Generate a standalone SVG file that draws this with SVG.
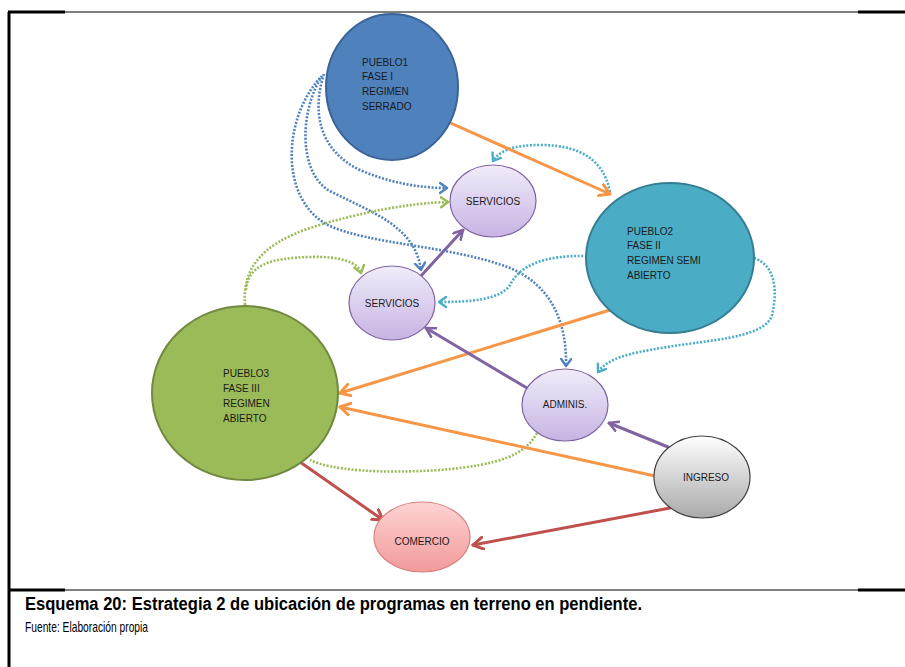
<svg xmlns="http://www.w3.org/2000/svg" width="905" height="667" viewBox="0 0 905 667">
<style>
.lbl{font-family:"Liberation Sans",Arial,sans-serif;font-size:10px;fill:#1a1a1a}
.ctr{text-anchor:middle;dominant-baseline:central}
.solid{fill:none;stroke-width:3;stroke-linecap:round}
.dot{fill:none;stroke-width:2.6;stroke-dasharray:2 1.6}
.mk{fill:none;stroke-linecap:round;stroke-linejoin:round}
</style>
<defs>
<linearGradient id="gPur" x1="0" y1="0" x2="0" y2="1"><stop offset="0" stop-color="#F1ECFA"/><stop offset="1" stop-color="#C6B4E3"/></linearGradient>
<linearGradient id="gGry" x1="0" y1="0" x2="0" y2="1"><stop offset="0" stop-color="#FFFFFF"/><stop offset="1" stop-color="#A9A9A9"/></linearGradient>
<linearGradient id="gPnk" x1="0" y1="0" x2="0" y2="1"><stop offset="0" stop-color="#FFD3D3"/><stop offset="1" stop-color="#F29A9A"/></linearGradient>
<marker id="aOr" markerUnits="userSpaceOnUse" markerWidth="16" markerHeight="16" refX="11" refY="7" orient="auto"><path class="mk" d="M1,1 L11,7 L1,13" stroke="#F79646" stroke-width="3"/></marker>
<marker id="aRd" markerUnits="userSpaceOnUse" markerWidth="16" markerHeight="16" refX="11" refY="7" orient="auto"><path class="mk" d="M1,1 L11,7 L1,13" stroke="#C0504D" stroke-width="3"/></marker>
<marker id="aPu" markerUnits="userSpaceOnUse" markerWidth="16" markerHeight="16" refX="10" refY="6" orient="auto"><path class="mk" d="M1,1 L10,6 L1,11" stroke="#8064A2" stroke-width="2.6"/></marker>
<marker id="aBl" markerUnits="userSpaceOnUse" markerWidth="14" markerHeight="14" refX="8" refY="6" orient="auto"><path class="mk" d="M1,1 L8,6 L1,11" stroke="#4F81BD" stroke-width="2.4"/></marker>
<marker id="aTl" markerUnits="userSpaceOnUse" markerWidth="14" markerHeight="14" refX="8" refY="6" orient="auto"><path class="mk" d="M1,1 L8,6 L1,11" stroke="#4BACC6" stroke-width="2.4"/></marker>
<marker id="aGr" markerUnits="userSpaceOnUse" markerWidth="14" markerHeight="14" refX="8" refY="6" orient="auto"><path class="mk" d="M1,1 L8,6 L1,11" stroke="#9BBB59" stroke-width="2.4"/></marker>
</defs>
<rect width="905" height="667" fill="#FFFFFF"/>
<g id="frame" stroke="#000" fill="none">
<line x1="9" y1="12" x2="9" y2="667" stroke-width="3"/>
<line x1="8" y1="12" x2="65" y2="12" stroke-width="3"/>
<line x1="65" y1="12" x2="858" y2="12" stroke-width="1"/>
<line x1="858" y1="12" x2="905" y2="12" stroke-width="3"/>
<line x1="8" y1="590" x2="65" y2="590" stroke-width="3"/>
<line x1="65" y1="590" x2="858" y2="590" stroke-width="1"/>
<line x1="858" y1="590" x2="905" y2="590" stroke-width="3"/>
</g>
<g id="connectors">
<path class="dot" stroke="#4F81BD" d="M324,74 C312,110 318,150 360,170 C390,183 420,188 447,188" marker-end="url(#aBl)"/>
<path class="dot" stroke="#4F81BD" d="M322,76 C300,110 298,170 328,190 C370,212 415,225 421,270" marker-end="url(#aBl)"/>
<path class="dot" stroke="#4F81BD" d="M320,78 C282,120 280,200 328,225 C370,245 450,245 510,268 C550,285 567,320 566,366" marker-end="url(#aBl)"/>
<path class="dot" stroke="#4BACC6" d="M610,192 C604,160 580,145 540,145 C515,145 500,150 493,161" marker-end="url(#aTl)"/>
<path class="dot" stroke="#4BACC6" d="M587,256 C545,255 520,265 510,285 C500,300 470,302 439,302" marker-end="url(#aTl)"/>
<path class="dot" stroke="#4BACC6" d="M754,258 C775,265 778,290 772,315 C765,340 700,340 650,350 C620,355 605,362 598,372" marker-end="url(#aTl)"/>
<path class="dot" stroke="#9BBB59" d="M245,305 C242,270 260,245 310,228 C360,212 410,203 448,202" marker-end="url(#aGr)"/>
<path class="dot" stroke="#9BBB59" d="M246,290 C248,265 270,258 310,257 C340,256 358,262 361,273" marker-end="url(#aGr)"/>
<path class="dot" stroke="#9BBB59" d="M537,433 C525,455 500,465 440,470 C380,474 330,470 310,460"/>
<path class="solid" stroke="#F79646" d="M437,117 L610,194" marker-end="url(#aOr)"/>
<path class="solid" stroke="#F79646" d="M610,310 L340,393" marker-end="url(#aOr)"/>
<path class="solid" stroke="#F79646" d="M655,476 L340,407" marker-end="url(#aOr)"/>
<path class="solid" stroke="#C0504D" d="M300,462 L383,520" marker-end="url(#aRd)"/>
<path class="solid" stroke="#C0504D" d="M670,508 L473,545" marker-end="url(#aRd)"/>
<path class="solid" stroke="#8064A2" stroke-width="2.6" d="M527,388 L426,328" marker-end="url(#aPu)"/>
<path class="solid" stroke="#8064A2" stroke-width="2.6" d="M668,447 L609,423" marker-end="url(#aPu)"/>
<path class="solid" stroke="#8064A2" stroke-width="2.6" d="M420,277 L463,230" marker-end="url(#aPu)"/>
</g>
<g id="pueblo1">
<ellipse cx="392" cy="87" rx="66" ry="73" fill="#4F81BD" stroke="#3A649A" stroke-width="2"/>
<text class="lbl" x="362" y="66">PUEBLO1</text>
<text class="lbl" x="362" y="80">FASE I</text>
<text class="lbl" x="362" y="95">REGIMEN</text>
<text class="lbl" x="362" y="110">SERRADO</text>
</g>
<g id="pueblo2">
<ellipse cx="670" cy="258" rx="84" ry="75" fill="#4BACC6" stroke="#357E92" stroke-width="2"/>
<text class="lbl" x="627" y="235">PUEBLO2</text>
<text class="lbl" x="627" y="249">FASE II</text>
<text class="lbl" x="627" y="264">REGIMEN SEMI</text>
<text class="lbl" x="627" y="279">ABIERTO</text>
</g>
<g id="pueblo3">
<ellipse cx="245" cy="393" rx="93" ry="87" fill="#9BBB59" stroke="#71893F" stroke-width="2"/>
<text class="lbl" x="223" y="377">PUEBLO3</text>
<text class="lbl" x="223" y="392">FASE III</text>
<text class="lbl" x="223" y="407">REGIMEN</text>
<text class="lbl" x="223" y="422">ABIERTO</text>
</g>
<g id="servicios1">
<ellipse cx="493" cy="201" rx="43" ry="36" fill="url(#gPur)" stroke="#8064A2" stroke-width="1.2"/>
<text class="lbl ctr" x="493" y="201">SERVICIOS</text>
</g>
<g id="servicios2">
<ellipse cx="392" cy="303" rx="43" ry="37" fill="url(#gPur)" stroke="#8064A2" stroke-width="1.2"/>
<text class="lbl ctr" x="392" y="303">SERVICIOS</text>
</g>
<g id="adminis">
<ellipse cx="565" cy="405" rx="43" ry="36" fill="url(#gPur)" stroke="#8064A2" stroke-width="1.2"/>
<text class="lbl ctr" x="565" y="404">ADMINIS.</text>
</g>
<g id="ingreso">
<ellipse cx="702" cy="477" rx="48" ry="41" fill="url(#gGry)" stroke="#404040" stroke-width="1.2"/>
<text class="lbl ctr" x="706" y="477">INGRESO</text>
</g>
<g id="comercio">
<ellipse cx="422" cy="537" rx="48" ry="35" fill="url(#gPnk)" stroke="#D98080" stroke-width="1.2"/>
<text class="lbl ctr" x="422" y="541">COMERCIO</text>
</g>
<g id="caption" font-family="'Liberation Sans',Arial,sans-serif" fill="#000">
<text x="25" y="610" font-size="18" font-weight="bold" textLength="617" lengthAdjust="spacingAndGlyphs">Esquema 20: Estrategia 2 de ubicación de programas en terreno en pendiente.</text>
<text x="25" y="632" font-size="15" textLength="123" lengthAdjust="spacingAndGlyphs">Fuente: Elaboración propia</text>
</g>
</svg>
